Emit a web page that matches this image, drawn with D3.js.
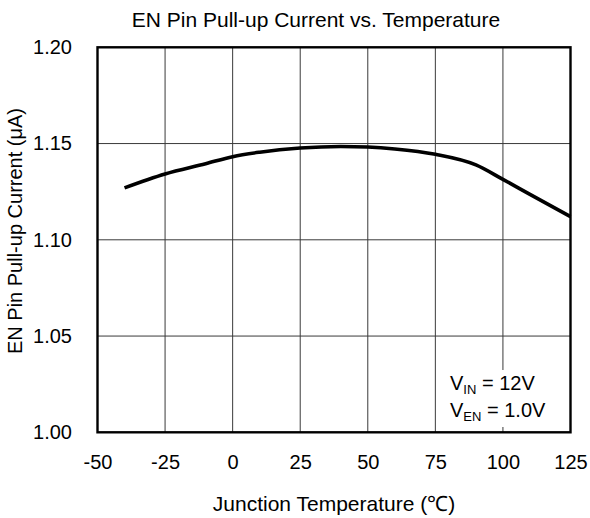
<!DOCTYPE html>
<html><head><meta charset="utf-8">
<script src="https://cdn.jsdelivr.net/npm/d3@7"></script>
<style>body{margin:0;background:#fff}svg{display:block}text{font-family:"Liberation Sans",Arial,sans-serif;fill:#000}</style>
</head><body><svg id="c" width="590" height="518"></svg>
<script>
const temps = [-40, -25, -10, 0, 10, 25, 40, 50, 60, 75, 90, 100, 110, 125];
const current = [1.127, 1.1342, 1.1395, 1.1432, 1.1455, 1.1477, 1.1485, 1.1482, 1.1472, 1.1444, 1.1389, 1.1314, 1.1236, 1.112];
const xTicks = [-50, -25, 0, 25, 50, 75, 100, 125];
const yTicks = [1.00, 1.05, 1.10, 1.15, 1.20];
const title = "EN Pin Pull-up Current vs. Temperature";
const xTitle = "Junction Temperature (℃)";
const yTitle = "EN Pin Pull-up Current (μA)";

const FONT = '"Liberation Sans",Arial,sans-serif';
const svg = d3.select("#c");
const L = 97.5, R = 570.5, T = 47.3, B = 432.3;
const x = d3.scaleLinear().domain([-50, 125]).range([L, R]);
const y = d3.scaleLinear().domain([1.0, 1.2]).range([B, T]);

// grid
svg.append("g").selectAll("line").data(xTicks.slice(1, -1)).join("line")
  .attr("x1", d => x(d)).attr("x2", d => x(d)).attr("y1", T).attr("y2", B)
  .attr("stroke", "#3a3a3a").attr("stroke-width", 1);
svg.append("g").selectAll("line").data(yTicks.slice(1, -1)).join("line")
  .attr("x1", L).attr("x2", R).attr("y1", d => y(d)).attr("y2", d => y(d))
  .attr("stroke", "#3a3a3a").attr("stroke-width", 1);

// annotation background
svg.append("rect").attr("x", 443).attr("y", 370).attr("width", R - 443 - 1).attr("height", 57).attr("fill", "#fff");

// line
svg.append("path").datum(temps.map((t, i) => [t, current[i]]))
  .attr("fill", "none").attr("stroke", "#000").attr("stroke-width", 3.6)
  .attr("stroke-linecap", "butt")
  .attr("d", d3.line().x(d => x(d[0])).y(d => y(d[1])).curve(d3.curveMonotoneX));

// border
svg.append("rect").attr("x", L).attr("y", T).attr("width", R - L).attr("height", B - T)
  .attr("fill", "none").attr("stroke", "#000").attr("stroke-width", 2.4);

// axes labels via d3 axes
const xa = svg.append("g").attr("transform", `translate(0,${B})`)
  .call(d3.axisBottom(x).tickValues(xTicks).tickSize(0).tickPadding(0).tickFormat(d => String(d)));
xa.select(".domain").remove();
xa.selectAll("text").attr("font-size", 20).attr("font-family", FONT).attr("fill", "#000")
  .attr("dy", null).attr("y", 469 - B);

const ya = svg.append("g").attr("transform", `translate(${L},0)`)
  .call(d3.axisLeft(y).tickValues(yTicks).tickSize(0).tickPadding(25.5).tickFormat(d3.format(".2f")));
ya.select(".domain").remove();
ya.selectAll("text").attr("font-size", 20).attr("font-family", FONT).attr("fill", "#000");

svg.append("text").attr("x", 316).attr("y", 27).attr("text-anchor", "middle").attr("font-size", 21).text(title);
svg.append("text").attr("x", (L + R) / 2).attr("y", 511).attr("text-anchor", "middle").attr("font-size", 21).text(xTitle);
svg.append("text").attr("transform", `translate(22,108) rotate(-90)`).attr("text-anchor", "end").attr("font-size", 20).text(yTitle);

// annotation
function ann(yy, sub, rest) {
  const t = svg.append("text").attr("x", 450).attr("y", yy).attr("font-size", 20);
  t.append("tspan").text("V");
  t.append("tspan").attr("font-size", 13).attr("dy", 4).text(sub);
  t.append("tspan").attr("dy", -4).text(" = " + rest);
}
ann(390, "IN", "12V");
ann(416.5, "EN", "1.0V");
</script></body></html>
